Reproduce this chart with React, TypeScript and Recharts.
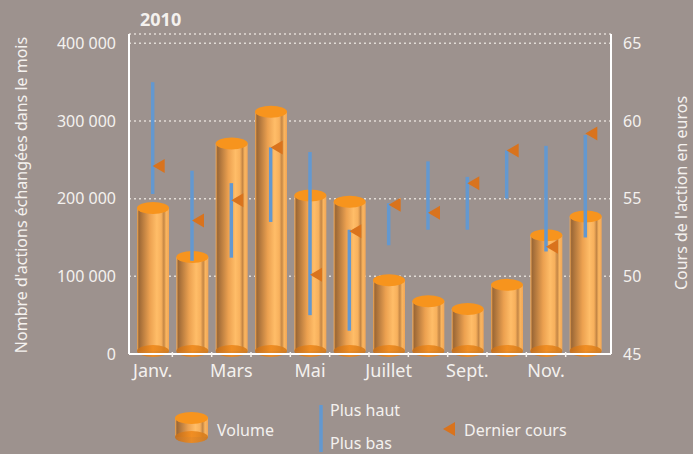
import React from "react";
import {
  ComposedChart,
  Bar,
  Scatter,
  ErrorBar,
  XAxis,
  YAxis,
  CartesianGrid,
} from "recharts";

const months = ["Janv.", "Févr.", "Mars", "Avril", "Mai", "Juin", "Juillet", "Août", "Sept.", "Oct.", "Nov.", "Déc."];
const volume = [188000, 125000, 271000, 312000, 204000, 196000, 95000, 68000, 58000, 89000, 153000, 177000];
const high = [62.5, 56.8, 56.0, 58.3, 58.0, 53.0, 54.7, 57.4, 56.4, 58.1, 58.4, 59.1];
const low = [55.3, 51.0, 51.2, 53.5, 47.5, 46.5, 52.0, 53.0, 53.0, 55.0, 51.6, 52.5];
const close = [57.1, 53.6, 54.9, 58.3, 50.1, 52.9, 54.6, 54.1, 56.0, 58.1, 51.9, 59.2];
const volumeTicks = [0, 100000, 200000, 300000, 400000];
const priceTicks = [45, 50, 55, 60, 65];

const data = months.map((m, i) => ({
  month: m,
  volume: volume[i],
  close: close[i],
  err: [close[i] - low[i], high[i] - close[i]],
}));

const BG = "#9d928e";
const TEXT = "#f4f1ee";
const BLUE = "#6398d0";
const ARROW = "#d9731d";
const FONT = "'Noto Sans', sans-serif";
const HALF_BAND = 19.67;

const fmt = (v: number) => (v === 0 ? "0" : `${v / 1000} 000`);

function Gradients() {
  return (
    <defs>
      <linearGradient id="cylBody" x1="0" y1="0" x2="1" y2="0">
        <stop offset="0%" stopColor="#f6ad5a" />
        <stop offset="6%" stopColor="#9c6836" />
        <stop offset="40%" stopColor="#eca150" />
        <stop offset="62%" stopColor="#ffbd68" />
        <stop offset="76%" stopColor="#f7b05c" />
        <stop offset="84%" stopColor="#c48645" />
        <stop offset="91%" stopColor="#fab660" />
        <stop offset="100%" stopColor="#f2a656" />
      </linearGradient>
      <linearGradient id="cylBottom" x1="0" y1="0" x2="1" y2="0">
        <stop offset="0%" stopColor="#c46f1c" />
        <stop offset="50%" stopColor="#f08a1c" />
        <stop offset="100%" stopColor="#d27a1c" />
      </linearGradient>
    </defs>
  );
}

function Cylinder(props: any) {
  const { x, y, width, height } = props;
  if (width == null || height == null) return null;
  const rx = width / 2;
  const ry = 6;
  const base = y + height - 3;
  return (
    <g>
      <rect x={x} y={y} width={width} height={Math.max(base - y, 0)} fill="url(#cylBody)" />
      <ellipse cx={x + rx} cy={base} rx={rx} ry={ry} fill="url(#cylBottom)" opacity={0.9} />
      <ellipse cx={x + rx} cy={y} rx={rx} ry={ry} fill="#f7941d" />
    </g>
  );
}

function Arrow(props: any) {
  const { cx, cy } = props;
  if (cx == null || cy == null) return null;
  return <polygon points={`${cx},${cy} ${cx + 12},${cy - 7} ${cx + 12},${cy + 7}`} fill={ARROW} />;
}

function MonthTick(props: any) {
  const { x, y, payload, index } = props;
  return (
    <g>
      {index < months.length - 1 && (
        <line x1={x + HALF_BAND} x2={x + HALF_BAND} y1={y - 2} y2={y + 3} stroke={TEXT} strokeWidth={1.5} />
      )}
      {index % 2 === 0 && (
        <text x={x} y={y + 23} textAnchor="middle" fill={TEXT} fontSize={18} fontFamily={FONT}>
          {payload.value}
        </text>
      )}
    </g>
  );
}

export default function App() {
  return (
    <div style={{ position: "relative", width: 693, height: 454, background: BG, overflow: "hidden" }}>
      <style>{`body{margin:0}`}</style>
      <ComposedChart
        width={693}
        height={454}
        data={data}
        margin={{ top: 34, right: 0, bottom: 70, left: 0 }}
      >
        <Gradients />
        <CartesianGrid
          yAxisId="left"
          vertical={false}
          stroke="#e2dcd6"
          strokeWidth={1.5}
          strokeDasharray="2 3"
        />
        <XAxis
          dataKey="month"
          height={30}
          interval={0}
          padding={{ left: 4, right: 6 }}
          axisLine={{ stroke: "#ffffff", strokeWidth: 2 }}
          tickLine={false}
          tickSize={0}
          tickMargin={0}
          tick={<MonthTick />}
        />
        <YAxis
          yAxisId="left"
          width={129}
          domain={[0, 412000]}
          ticks={volumeTicks}
          tickFormatter={fmt}
          axisLine={{ stroke: "#ffffff", strokeWidth: 2 }}
          tickLine={false}
          tickSize={0}
          tickMargin={13}
          tick={{ fill: TEXT, fontSize: 16, fontFamily: FONT }}
        />
        <YAxis
          yAxisId="right"
          orientation="right"
          width={82}
          domain={[45, 65.6]}
          ticks={priceTicks}
          allowDataOverflow
          axisLine={{ stroke: "#ffffff", strokeWidth: 2 }}
          tickLine={false}
          tickSize={0}
          tickMargin={12}
          tick={{ fill: TEXT, fontSize: 16, fontFamily: FONT, textAnchor: "start" }}
        />
        <Bar
          yAxisId="left"
          dataKey="volume"
          barSize={32}
          shape={<Cylinder />}
          isAnimationActive={false}
        />
        <Scatter
          yAxisId="right"
          dataKey="close"
          shape={<Arrow />}
          isAnimationActive={false}
        >
          <ErrorBar dataKey="err" direction="y" width={0} stroke={BLUE} strokeWidth={3.5} />
        </Scatter>
      </ComposedChart>

      <svg
        width={693}
        height={454}
        style={{ position: "absolute", left: 0, top: 0, pointerEvents: "none" }}
        fontFamily={FONT}
      >
        <Gradients />
        <text x={140} y={26} fill={TEXT} fontSize={18} fontWeight={700}>2010</text>
        <text
          x={27}
          y={195}
          transform="rotate(-90 27 195)"
          textAnchor="middle"
          fill={TEXT}
          fontSize={16}
        >
          Nombre d'actions échangées dans le mois
        </text>
        <text
          x={687}
          y={193}
          transform="rotate(-90 687 193)"
          textAnchor="middle"
          fill={TEXT}
          fontSize={16}
        >
          Cours de l'action en euros
        </text>

        {/* legend */}
        <rect x={175} y={418} width={33} height={19} fill="url(#cylBody)" />
        <ellipse cx={191.5} cy={437} rx={16.5} ry={6} fill="url(#cylBottom)" opacity={0.9} />
        <ellipse cx={191.5} cy={418} rx={16.5} ry={6} fill="#f7941d" />
        <text x={217} y={436} fill={TEXT} fontSize={16}>Volume</text>

        <line x1={321} x2={321} y1={405} y2={452} stroke={BLUE} strokeWidth={3.5} />
        <text x={330} y={416} fill={TEXT} fontSize={16}>Plus haut</text>
        <text x={330} y={449} fill={TEXT} fontSize={16}>Plus bas</text>

        <polygon points="443,429 455,422 455,436" fill={ARROW} />
        <text x={464} y={436} fill={TEXT} fontSize={16}>Dernier cours</text>
      </svg>
    </div>
  );
}
